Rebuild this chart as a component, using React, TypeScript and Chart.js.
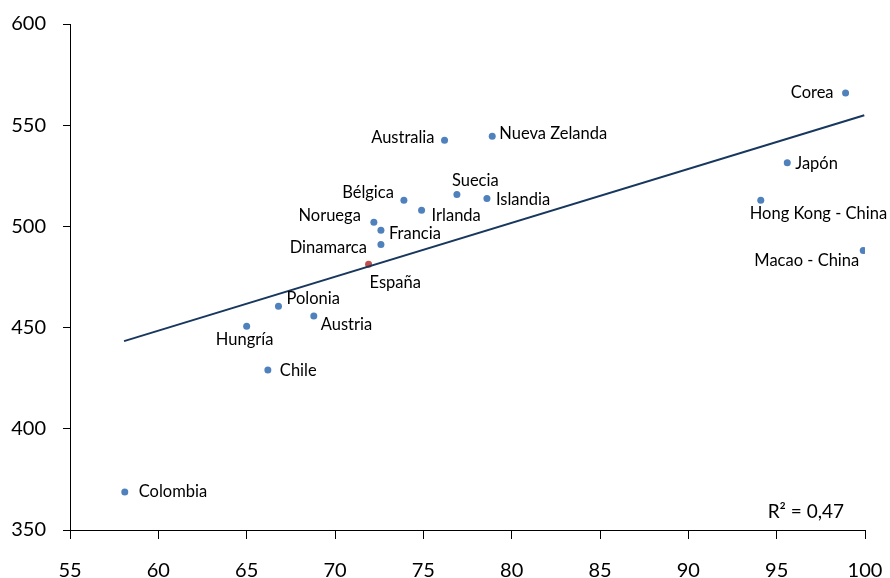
import React, { useEffect, useRef } from "react";
import { Chart, registerables } from "chart.js";

Chart.register(...registerables);

const countries = [
  "Colombia", "Hungría", "Chile", "Polonia", "Austria", "España", "Dinamarca",
  "Francia", "Noruega", "Bélgica", "Irlanda", "Suecia", "Islandia", "Australia",
  "Nueva Zelanda", "Corea", "Japón", "Hong Kong - China", "Macao - China",
];
const xValues = [
  58.1, 65.0, 66.2, 66.8, 68.8, 71.9, 72.6,
  72.6, 72.2, 73.9, 74.9, 76.9, 78.6, 76.2,
  78.9, 98.9, 95.6, 94.1, 99.9,
];
const yValues = [
  368.8, 450.7, 429.0, 460.6, 455.7, 481.3, 491.1,
  498.1, 502.1, 512.9, 508.0, 515.8, 513.8, 542.6,
  544.5, 565.9, 531.4, 512.9, 488.1,
];
const highlight = "España";
const trendX = [58.06, 99.96];
const trendY = [443.3, 554.9];
const rSquaredText = "R² = 0,47";

// label placement (layout only): [dx, dy, align]
const labelLayout: [number, number, CanvasTextAlign][] = [
  [14, 0, "left"], [-2, 13, "center"], [12, 1, "left"], [8, -7, "left"],
  [7, 9, "left"], [1, 18, "left"], [-14, 3, "right"], [8, 3, "left"],
  [-13, -6, "right"], [-10, -8, "right"], [10, 5, "left"], [-5, -14, "left"],
  [9, 1, "left"], [-10, -3, "right"], [7, -3, "left"], [-12, 0, "right"],
  [8, 1, "left"], [-11, 13, "left"], [-4, 10, "right"],
];

const FONT = "Lato, 'Open Sans', 'Liberation Sans', sans-serif";

const labelPlugin = {
  id: "pointLabels",
  afterDatasetsDraw(chart: any) {
    const meta = chart.getDatasetMeta(1);
    const ctx = chart.ctx;
    ctx.save();
    ctx.font = `16.5px ${FONT}`;
    ctx.fillStyle = "#000";
    ctx.textBaseline = "middle";
    meta.data.forEach((el: any, i: number) => {
      const [dx, dy, align] = labelLayout[i];
      ctx.textAlign = align;
      ctx.fillText(countries[i], el.x + dx, el.y + dy);
    });
    const area = chart.chartArea;
    ctx.font = `19px ${FONT}`;
    ctx.textAlign = "right";
    ctx.fillText(rSquaredText, area.right - 21, area.bottom - 18);
    ctx.restore();
  },
};

const zeroPad = (s: any) => {
  s.paddingLeft = 0;
  s.paddingRight = 0;
  s.paddingTop = 0;
  s.paddingBottom = 0;
};

export default function App() {
  const ref = useRef<HTMLCanvasElement>(null);
  useEffect(() => {
    if (!ref.current) return;
    const chart = new Chart(ref.current, {
      type: "scatter",
      data: {
        datasets: [
          {
            type: "line",
            data: trendX.map((x, i) => ({ x, y: trendY[i] })),
            borderColor: "#17375E",
            borderWidth: 2,
            pointRadius: 0,
            fill: false,
          } as any,
          {
            data: xValues.map((x, i) => ({ x, y: yValues[i] })),
            backgroundColor: countries.map((c) => (c === highlight ? "#C0504D" : "#4F81BD")),
            borderColor: countries.map((c) => (c === highlight ? "#C0504D" : "#4F81BD")),
            pointRadius: 3.5,
            borderWidth: 0,
          },
        ],
      },
      options: {
        responsive: false,
        animation: false,
        layout: { padding: { top: 24, right: 25, left: 0, bottom: 0 } },
        plugins: { legend: { display: false }, tooltip: { enabled: false } },
        scales: {
          x: {
            type: "linear",
            min: 55,
            max: 100,
            ticks: { stepSize: 5, font: { family: FONT, size: 20 }, color: "#000", padding: 20 },
            grid: { drawOnChartArea: false, drawTicks: true, tickLength: 9, tickColor: "#000", tickWidth: 1 },
            border: { display: true, color: "#000", width: 1 },
            afterFit: (s: any) => { s.height = 48; zeroPad(s); },
          },
          y: {
            type: "linear",
            min: 350,
            max: 600,
            ticks: { stepSize: 50, font: { family: FONT, size: 20 }, color: "#000", padding: 17 },
            grid: { drawOnChartArea: false, drawTicks: true, tickLength: 7, tickColor: "#000", tickWidth: 1 },
            border: { display: true, color: "#000", width: 1 },
            afterFit: (s: any) => { s.width = 70; zeroPad(s); },
          },
        },
      },
      plugins: [labelPlugin],
    });
    return () => chart.destroy();
  }, []);
  return (
    <div style={{ position: "absolute", left: 0, top: 0, width: 890, height: 578, background: "#fff" }}>
      <canvas ref={ref} width={890} height={578} />
    </div>
  );
}
